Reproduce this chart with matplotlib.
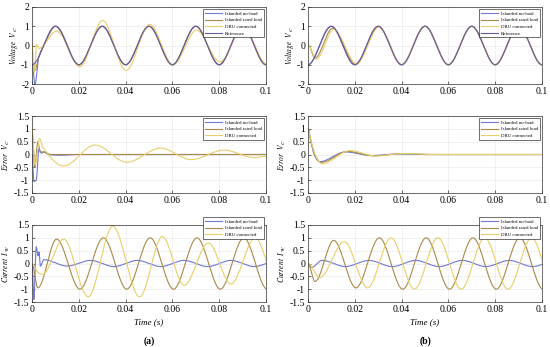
import numpy as np
import matplotlib
matplotlib.use('Agg')
import matplotlib.pyplot as plt

plt.rcParams['font.family'] = 'Liberation Serif'
plt.rcParams['mathtext.fontset'] = 'stix'

# extrema / key points: (time s, value)
ref_v = [(0, -1), (0.01, 1), (0.02, -1), (0.03, 1), (0.04, -1), (0.05, 1),
         (0.06, -1), (0.07, 1), (0.08, -1), (0.09, 1), (0.1, -1)]

# (a) voltage
noload_va = [(0, -1.0), (0.0013, -2.0), (0.0028, -0.65), (0.005, 0.0), (0.0101, 1.0),
             (0.0201, -1.0), (0.03, 1), (0.04, -1), (0.05, 1), (0.06, -1), (0.07, 1),
             (0.08, -1), (0.09, 1), (0.1, -1)]
rated_va = [(0, -1.0), (0.0012, -1.3), (0.0028, -0.65), (0.005, 0.0), (0.0101, 1.0),
            (0.0201, -1.0), (0.03, 1), (0.04, -1), (0.05, 1), (0.06, -1), (0.07, 1),
            (0.08, -1), (0.09, 1), (0.1, -1)]
dru_va = [(0, 0.05), (0.001, -1.4), (0.002, 0.05), (0.003, -0.15), (0.0105, 0.75),
          (0.0205, -1.1), (0.0302, 1.3), (0.0402, -1.3), (0.0503, 1.1), (0.0603, -1.0),
          (0.0703, 0.8), (0.0803, -0.85), (0.0903, 0.95), (0.1002, -0.95)]

# (a) error
noload_ea = [(0, 0.0), (0.0008, -1.05), (0.0018, -1.0), (0.003, 0.22), (0.004, 0.05),
             (0.005, 0.1), (0.007, 0.0), (0.012, -0.03), (0.02, 0.0), (0.1, 0.0)]
rated_ea = [(0, 0.9), (0.0012, -0.5), (0.0025, 0.5), (0.0035, 0.1), (0.005, 0.1),
            (0.008, 0.0), (0.1, 0.0)]
dru_ea = [(0, 1.0), (0.0013, -0.4), (0.0033, 0.62), (0.0045, 0.3), (0.0135, -0.45),
          (0.027, 0.37), (0.0405, -0.3), (0.055, 0.25), (0.068, -0.2), (0.082, 0.17),
          (0.095, -0.12), (0.1, -0.07)]

# (a) current
noload_ia = [(0, 0.0), (0.0008, -1.4), (0.0018, 0.65), (0.0026, 0.3), (0.003, 0.45),
             (0.0036, -0.1), (0.005, 0.15), (0.015, -0.1), (0.025, 0.12), (0.035, -0.12),
             (0.045, 0.12), (0.055, -0.12), (0.065, 0.12), (0.075, -0.12), (0.085, 0.12),
             (0.095, -0.12), (0.105, 0.12)]
rated_ia = [(0, 0.0), (0.0025, -0.95), (0.0105, 0.95), (0.0205, -1.0), (0.0305, 1.0),
            (0.0405, -1.0), (0.0505, 1.0), (0.0605, -1.0), (0.0705, 1.0), (0.0805, -1.0),
            (0.0905, 1.0), (0.1005, -1.0)]
dru_ia = [(0, 0.0), (0.0025, -0.35), (0.0045, -0.42), (0.0135, 0.95), (0.024, -1.3),
          (0.0345, 1.45), (0.046, -1.3), (0.0557, 1.05), (0.0650, -0.85), (0.0754, 0.8),
          (0.0850, -0.8), (0.0954, 1.0), (0.1054, -1.0)]

# (b) voltage
noload_vb = [(0, -1.0), (0.0098, 1.0), (0.02, -1), (0.03, 1), (0.04, -1), (0.05, 1),
             (0.06, -1), (0.07, 1), (0.08, -1), (0.09, 1), (0.1, -1)]
rated_vb = [(0, 0.05), (0.003, -0.65), (0.0105, 0.9), (0.0205, -0.97), (0.0302, 0.98),
            (0.0401, -1), (0.05, 1), (0.06, -1), (0.07, 1), (0.08, -1), (0.09, 1), (0.1, -1)]
dru_vb = [(0, 0.05), (0.0035, -0.72), (0.011, 0.83), (0.0207, -0.95), (0.0303, 0.95),
          (0.0402, -1), (0.05, 1), (0.06, -1), (0.07, 1), (0.08, -1), (0.09, 1), (0.1, -1)]

# (b) error
noload_eb = [(0, 1.0), (0.0012, 0.5), (0.0026, 0.0), (0.005, -0.28), (0.016, 0.1),
             (0.027, -0.04), (0.038, 0.02), (0.05, 0.0), (0.1, 0.0)]
rated_eb = [(0, 1.0), (0.0013, 0.5), (0.0028, 0.0), (0.0055, -0.31), (0.017, 0.12),
            (0.028, -0.05), (0.04, 0.03), (0.052, 0.0), (0.1, 0.0)]
dru_eb = [(0, 0.95), (0.0015, 0.45), (0.003, 0.0), (0.006, -0.36), (0.018, 0.15),
          (0.029, -0.06), (0.041, 0.04), (0.053, 0.0), (0.1, 0.0)]

# (b) current
noload_ib = [(0, 0.0), (0.0015, -0.15), (0.006, 0.12), (0.016, -0.12), (0.026, 0.12),
             (0.036, -0.12), (0.046, 0.12), (0.056, -0.12), (0.066, 0.12), (0.076, -0.12),
             (0.086, 0.12), (0.096, -0.12), (0.106, 0.12)]
rated_ib = [(0, 0.0), (0.003, -0.7), (0.011, 0.9), (0.0205, -0.95), (0.0305, 1.0),
            (0.0405, -1.0), (0.0505, 1.0), (0.0605, -1.0), (0.0705, 1.0), (0.0805, -1.0),
            (0.0905, 1.0), (0.1005, -1.0)]
dru_ib = [(0, 0.0), (0.005, -0.55), (0.0155, 0.85), (0.0255, -0.95), (0.0355, 1.0),
          (0.0455, -1.0), (0.0555, 1.0), (0.0655, -1.0), (0.0755, 1.0), (0.0855, -1.0),
          (0.0955, 1.0), (0.1055, -1.0)]

labels = ['Islanded no-load', 'Islanded rated load', 'DRU connected', 'Reference']
colors = ['#7078d8', '#a88a4a', '#e8cf6a', '#6a5a9a']


def smooth(pts, n=40):
    # monotone cubic through the read points (flat at turning points)
    t = np.array([p[0] for p in pts], float)
    v = np.array([p[1] for p in pts], float)
    d = np.diff(v) / np.diff(t)
    m = np.zeros_like(v)
    for k in range(1, len(v) - 1):
        if d[k - 1] * d[k] > 0:
            m[k] = 2 * d[k - 1] * d[k] / (d[k - 1] + d[k])
    ts, vs = [], []
    for k in range(len(t) - 1):
        h = t[k + 1] - t[k]
        s = np.linspace(0, 1, n)
        h00 = 2 * s**3 - 3 * s**2 + 1
        h10 = s**3 - 2 * s**2 + s
        h01 = -2 * s**3 + 3 * s**2
        h11 = s**3 - s**2
        ts.append(t[k] + s * h)
        vs.append(h00 * v[k] + h10 * h * m[k] + h01 * v[k + 1] + h11 * h * m[k + 1])
    return np.concatenate(ts), np.concatenate(vs)


fig = plt.figure(figsize=(5.5, 3.47), dpi=100)
W, H = 550, 347
lefts = [32, 308]
tops = [7, 116, 225]
aw, ah = 234, 77

panels = [
    [[noload_va, rated_va, dru_va, ref_v], [noload_ea, rated_ea, dru_ea], [noload_ia, rated_ia, dru_ia]],
    [[noload_vb, rated_vb, dru_vb, ref_v], [noload_eb, rated_eb, dru_eb], [noload_ib, rated_ib, dru_ib]],
]
ylabels = [r'$Voltage\ \ V_{\ C}$', r'$Error\ \ V_{\ C}$', r'$Current\ \ I_{\ W}$']
ylims = [(-2, 2), (-1.5, 1.5), (-1.5, 1.5)]
yticks = [[-2, -1, 0, 1, 2], [-1.5, -1, -0.5, 0, 0.5, 1, 1.5], [-1.5, -1, -0.5, 0, 0.5, 1, 1.5]]
legend_anchor = [1.0, 1.0, 1.13]

for c in range(2):
    for r in range(3):
        ax = fig.add_axes([lefts[c] / W, 1 - (tops[r] + ah) / H, aw / W, ah / H])
        for i, pts in enumerate(panels[c][r]):
            t, v = smooth(pts)
            ax.plot(t, v, color=colors[i], lw=0.8, label=labels[i])
        ax.set_xlim(0, 0.1)
        ax.set_ylim(*ylims[r])
        ax.set_yticks(yticks[r])
        ax.set_yticklabels([f'{y:g}' for y in yticks[r]])
        ax.set_xticks([0, 0.02, 0.04, 0.06, 0.08, 0.1])
        ax.set_xticklabels(['0', '0.02', '0.04', '0.06', '0.08', '0.1'])
        ax.tick_params(direction='in', length=2, width=0.4, labelsize=7, pad=2)
        ax.grid(True, color='#e6e6e6', lw=0.4)
        for sp in ax.spines.values():
            sp.set_linewidth(0.5)
            sp.set_color('#333333')
        ax.set_ylabel(ylabels[r], fontsize=5.5, labelpad=1)
        leg = ax.legend(loc='upper right', bbox_to_anchor=(1.0, legend_anchor[r]),
                        fontsize=3.5, frameon=True, fancybox=False, framealpha=1,
                        edgecolor='black', handlelength=3.5, borderpad=0.4,
                        labelspacing=0.45, handletextpad=0.6)
        leg.get_frame().set_linewidth(0.4)
        if r == 2:
            ax.set_xlabel('Time (s)', fontsize=6.5, style='italic', labelpad=3)
    fig.text((lefts[c] + aw / 2) / W, 1 - 341 / H, '(a)' if c == 0 else '(b)',
             ha='center', va='center', fontsize=7, fontweight='bold')

fig.savefig('out.png', dpi=100)
